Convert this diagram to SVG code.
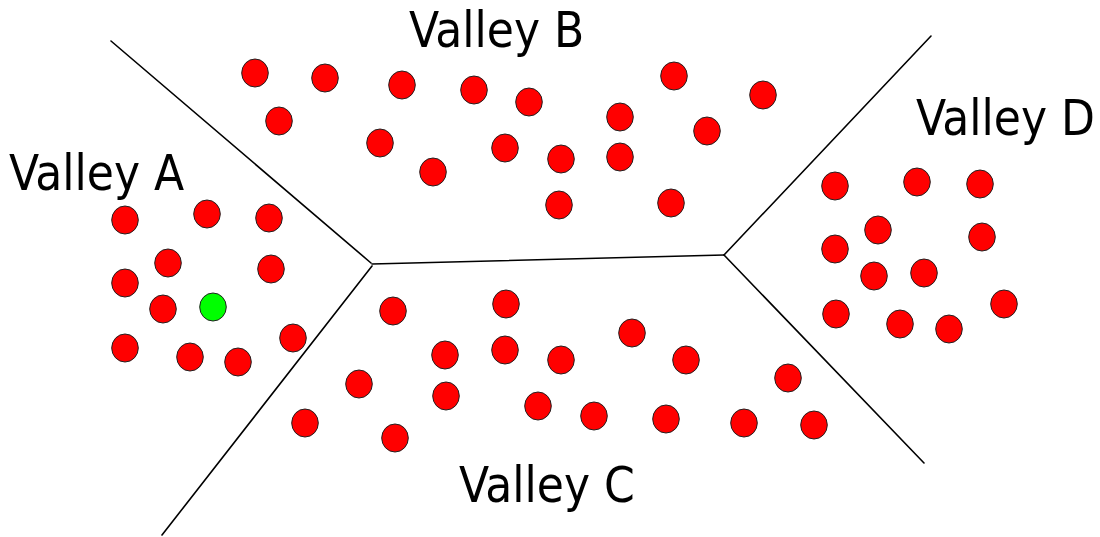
<svg xmlns="http://www.w3.org/2000/svg" width="1100" height="537" viewBox="0 0 1100 537">
<defs>
<style>
.lbl{font-family:"DejaVu Sans Condensed","DejaVu Sans",sans-serif;font-stretch:condensed;font-size:49px;fill:#000}
.r{fill:#ff0000;stroke:#222;stroke-width:1}
.g{fill:#00ff00;stroke:#222;stroke-width:1}
.edge{stroke:#000;stroke-width:1.6;fill:none;stroke-linecap:round}
</style>
<ellipse id="dot" cx="0" cy="0" rx="13.3" ry="14"/>
</defs>
<rect width="1100" height="537" fill="#fff"/>
<g id="connectors">
<path class="edge" d="M111,41 L371,263"/>
<path class="edge" d="M372,264 L724,255"/>
<path class="edge" d="M372,266 L162,535"/>
<path class="edge" d="M724,255 L931,36"/>
<path class="edge" d="M724,255 L924,463"/>
</g>
<g id="labels">
<text class="lbl" x="9" y="190">Valley A</text>
<text class="lbl" x="409" y="47">Valley B</text>
<text class="lbl" x="459" y="502">Valley C</text>
<text class="lbl" x="916" y="135">Valley D</text>
</g>
<g id="valleyA">
<use href="#dot" class="r" x="125" y="220"/>
<use href="#dot" class="r" x="207" y="214"/>
<use href="#dot" class="r" x="269" y="218"/>
<use href="#dot" class="r" x="168" y="263"/>
<use href="#dot" class="r" x="271" y="269"/>
<use href="#dot" class="r" x="125" y="283"/>
<use href="#dot" class="r" x="163" y="309"/>
<use href="#dot" class="g" x="213" y="307"/>
<use href="#dot" class="r" x="125" y="348"/>
<use href="#dot" class="r" x="190" y="357"/>
<use href="#dot" class="r" x="238" y="362"/>
<use href="#dot" class="r" x="293" y="338"/>
</g>
<g id="valleyB">
<use href="#dot" class="r" x="255" y="73"/>
<use href="#dot" class="r" x="325" y="78"/>
<use href="#dot" class="r" x="402" y="85"/>
<use href="#dot" class="r" x="474" y="90"/>
<use href="#dot" class="r" x="529" y="102"/>
<use href="#dot" class="r" x="279" y="121"/>
<use href="#dot" class="r" x="380" y="143"/>
<use href="#dot" class="r" x="433" y="172"/>
<use href="#dot" class="r" x="505" y="148"/>
<use href="#dot" class="r" x="561" y="159"/>
<use href="#dot" class="r" x="620" y="117"/>
<use href="#dot" class="r" x="620" y="157"/>
<use href="#dot" class="r" x="559" y="205"/>
<use href="#dot" class="r" x="674" y="76"/>
<use href="#dot" class="r" x="707" y="131"/>
<use href="#dot" class="r" x="763" y="95"/>
<use href="#dot" class="r" x="671" y="203"/>
</g>
<g id="valleyC">
<use href="#dot" class="r" x="393" y="311"/>
<use href="#dot" class="r" x="506" y="304"/>
<use href="#dot" class="r" x="445" y="355"/>
<use href="#dot" class="r" x="505" y="350"/>
<use href="#dot" class="r" x="561" y="360"/>
<use href="#dot" class="r" x="632" y="333"/>
<use href="#dot" class="r" x="686" y="360"/>
<use href="#dot" class="r" x="359" y="384"/>
<use href="#dot" class="r" x="446" y="396"/>
<use href="#dot" class="r" x="538" y="406"/>
<use href="#dot" class="r" x="594" y="416"/>
<use href="#dot" class="r" x="666" y="419"/>
<use href="#dot" class="r" x="744" y="423"/>
<use href="#dot" class="r" x="788" y="378"/>
<use href="#dot" class="r" x="814" y="425"/>
<use href="#dot" class="r" x="305" y="423"/>
<use href="#dot" class="r" x="395" y="438"/>
</g>
<g id="valleyD">
<use href="#dot" class="r" x="835" y="186"/>
<use href="#dot" class="r" x="917" y="182"/>
<use href="#dot" class="r" x="980" y="184"/>
<use href="#dot" class="r" x="878" y="230"/>
<use href="#dot" class="r" x="982" y="237"/>
<use href="#dot" class="r" x="835" y="249"/>
<use href="#dot" class="r" x="874" y="276"/>
<use href="#dot" class="r" x="924" y="273"/>
<use href="#dot" class="r" x="1004" y="304"/>
<use href="#dot" class="r" x="836" y="314"/>
<use href="#dot" class="r" x="900" y="324"/>
<use href="#dot" class="r" x="949" y="329"/>
</g>
</svg>
